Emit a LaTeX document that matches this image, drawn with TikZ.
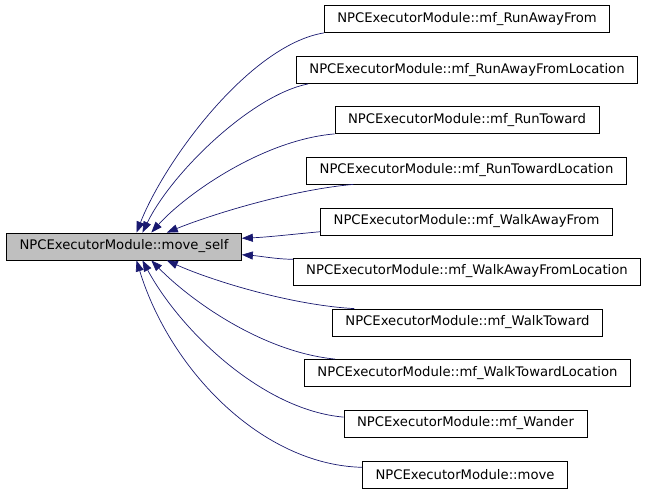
\documentclass[tikz,border=0pt]{standalone}
\usepackage{fontspec}
\setmainfont{DejaVu Sans}
\usetikzlibrary{arrows.meta}
\definecolor{edgeblue}{HTML}{191970}
\definecolor{selfgray}{HTML}{BFBFBF}

\begin{document}
\begin{tikzpicture}[x=1pt, y=-1pt,
  fn/.style={draw=black, line width=0.8pt, rectangle, minimum height=27pt, inner xsep=13pt, inner ysep=0pt, font=\fontsize{13.2}{16}\selectfont},
  call/.style={{Triangle[length=11pt, width=8pt]}-, draw=edgeblue, fill=none, line width=0.7pt}]
  \useasboundingbox (0,0) rectangle (648,493);

  \node[fn, fill=selfgray] (ms) at (124,246.5) {NPCExecutorModule::move\_self};

  \node[fn] (c1) at (467,19) {NPCExecutorModule::mf\_RunAwayFrom};
  \node[fn] (c2) at (467,70) {NPCExecutorModule::mf\_RunAwayFromLocation};
  \node[fn] (c3) at (467,120) {NPCExecutorModule::mf\_RunToward};
  \node[fn] (c4) at (466.5,170.5) {NPCExecutorModule::mf\_RunTowardLocation};
  \node[fn] (c5) at (466.5,221.5) {NPCExecutorModule::mf\_WalkAwayFrom};
  \node[fn] (c6) at (467,271.5) {NPCExecutorModule::mf\_WalkAwayFromLocation};
  \node[fn] (c7) at (467.5,322.5) {NPCExecutorModule::mf\_WalkToward};
  \node[fn] (c8) at (467.5,373) {NPCExecutorModule::mf\_WalkTowardLocation};
  \node[fn] (c9) at (465.5,423.5) {NPCExecutorModule::mf\_Wander};
  \node[fn] (c10) at (465,474.5) {NPCExecutorModule::move};

  \draw[call] (ms.48) .. controls (165,160) and (250,45) .. (c1.south west);
  \draw[call] (ms.37) .. controls (172,172) and (252,95) .. (c2.185);
  \draw[call] (ms.27) .. controls (185,195) and (262,140) .. (c3.south west);
  \draw[call] (ms.18) .. controls (210,215) and (290,190) .. (c4.187);
  \draw[call] (ms.4) .. controls (270,237) and (295,234) .. (c5.184);
  \draw[call] (ms.-4) .. controls (260,256) and (275,259) .. (c6.176);
  \draw[call] (ms.-18) .. controls (210,280) and (290,305) .. (c7.173);
  \draw[call] (ms.-27) .. controls (190,300) and (262,352) .. (c8.174);
  \draw[call] (ms.-37) .. controls (180,330) and (262,410) .. (c9.177);
  \draw[call] (ms.-48) .. controls (170,370) and (262,465) .. (c10.176);
\end{tikzpicture}
\end{document}
